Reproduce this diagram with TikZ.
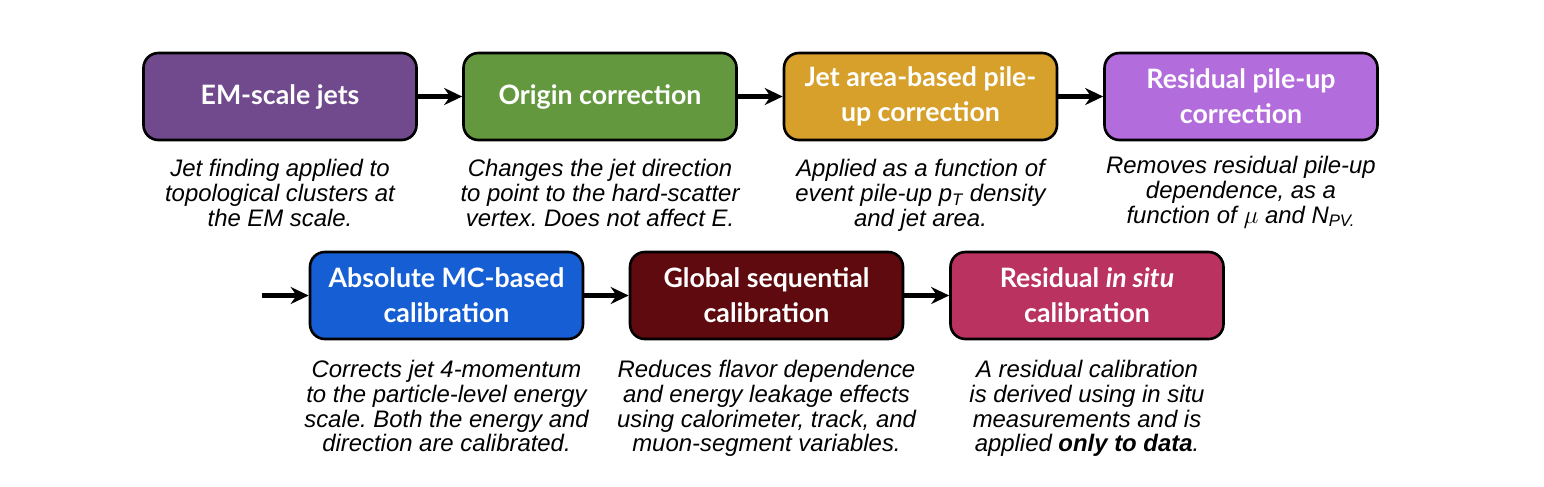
\documentclass[tikz,border=0pt]{standalone}
\usepackage{fontspec}
\setmainfont{Liberation Sans}
\newfontfamily\titlefont{Lato}
\usepackage{tikz}
\usetikzlibrary{
  arrows.meta,
  positioning
}
\definecolor{emcol}{RGB}{112,74,140}
\definecolor{origcol}{RGB}{100,152,62}
\definecolor{areacol}{RGB}{214,160,42}
\definecolor{rescol}{RGB}{178,108,220}
\definecolor{mccol}{RGB}{22,94,212}
\definecolor{gscol}{RGB}{94,10,14}
\definecolor{insitucol}{RGB}{186,50,96}
\frenchspacing

\begin{document}
\begin{tikzpicture}[
  stage/.style={
    draw=black, line width=1.5pt, rounded corners=8.5pt,
    minimum width=5.46cm, minimum height=1.74cm, inner sep=2pt,
    align=center, text=white,
    font=\titlefont\bfseries\fontsize{15.2}{20}\selectfont,
  },
  desc/.style={
    align=center, inner sep=0pt,
    font=\itshape\fontsize{13.6}{14}\selectfont,
  },
  flow/.style={line width=2.7pt, -{Stealth[length=0.36cm, width=0.34cm]}},
]
\useasboundingbox (0,0) rectangle (30.88,-9.72);

% Top row
\node[stage, fill=emcol]     (em)   at (5.60, -1.93) {EM-scale jets};
\node[stage, fill=origcol]   (orig) at (12.00, -1.93) {Origin correction};
\node[stage, fill=areacol]   (area) at (18.41, -1.93) {Jet area-based pile-\\up correction};
\node[stage, fill=rescol]    (res)  at (24.82, -1.93) {Residual pile-up\\correction};

% Bottom row
\coordinate (start) at (5.24, -5.91);
\node[stage, fill=mccol]     (mc)   at (8.93, -5.91) {Absolute MC-based\\calibration};
\node[stage, fill=gscol]     (gs)   at (15.33, -5.91) {Global sequential\\calibration};
\node[stage, fill=insitucol] (ins)  at (21.74, -5.91) {Residual \textit{in situ}\\calibration};

% Descriptions
\node[desc, below=0.36cm of em]   (emtxt)   {Jet finding applied to\\topological clusters at\\the EM scale.};
\node[desc, below=0.36cm of orig] (origtxt) {Changes the jet direction\\to point to the hard-scatter\\vertex. Does not affect E.};
\node[desc, below=0.36cm of area] (areatxt) {Applied as a function of\\event pile-up p\textsubscript{T} density\\and jet area.};
\node[desc, below=0.3cm of res]   (restxt)  {Removes residual pile-up\\dependence, as a\\function of $\mu$ and N\textsubscript{PV.}};
\node[desc, below=0.4cm of mc]    (mctxt)   {Corrects jet 4-momentum\\to the particle-level energy\\scale. Both the energy and\\direction are calibrated.};
\node[desc, below=0.4cm of gs]    (gstxt)   {Reduces flavor dependence\\and energy leakage effects\\using calorimeter, track, and\\muon-segment variables.};
\node[desc, below=0.4cm of ins]   (instxt)  {A residual calibration\\is derived using in situ\\measurements and is\\applied \textbf{only to data}.};

% Arrows
\foreach \a/\b in {em/orig, orig/area, area/res, mc/gs, gs/ins} {
  \draw[flow] (\a.east) -- (\b.west);
}
\draw[flow] (start) -- (mc.west);

\end{tikzpicture}
\end{document}
